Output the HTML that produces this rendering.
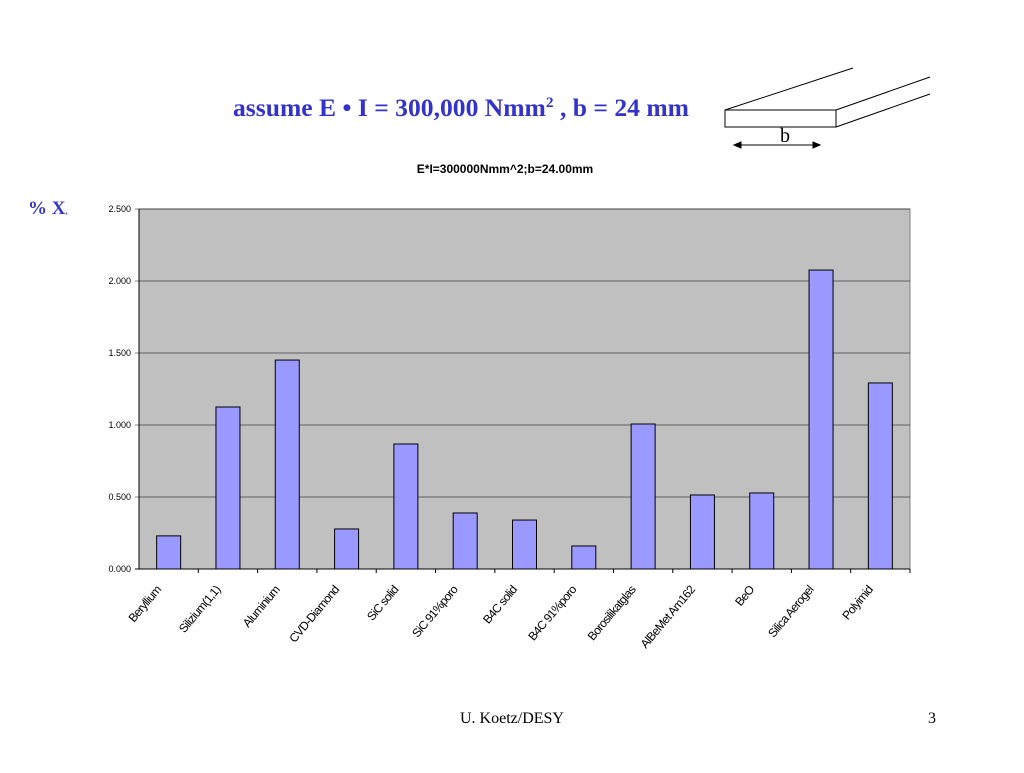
<!DOCTYPE html>
<html><head><meta charset="utf-8"><style>
body{margin:0;background:#fff;width:1024px;height:768px;overflow:hidden;font-family:"Liberation Sans",sans-serif}
</style></head><body>
<svg width="1024" height="768">
<text x="233" y="116" font-family="Liberation Serif" font-weight="bold" font-size="25" fill="#3333cc" textLength="456" lengthAdjust="spacingAndGlyphs">assume E • I = 300,000 Nmm<tspan font-size="15" dy="-9">2</tspan><tspan dy="9"> , b = 24 mm</tspan></text>
<g stroke="#000" fill="none" stroke-width="1">
<rect x="725" y="110" width="111" height="17"/>
<line x1="725" y1="110" x2="853" y2="68"/><line x1="836" y1="110" x2="930" y2="77"/><line x1="836" y1="127" x2="930" y2="94"/>
<line x1="738" y1="145" x2="816" y2="145"/>
<path d="M734 145l7-3v6z M820 145l-7-3v6z" fill="#000"/>
</g>
<text x="785" y="142" text-anchor="middle" font-family="Liberation Serif" font-size="20">b</text>
<text x="505" y="173" text-anchor="middle" font-weight="bold" font-size="12">E*I=300000Nmm^2;b=24.00mm</text>
<text x="28" y="214" font-family="Liberation Serif" font-weight="bold" font-size="19" fill="#3333cc">% X<tspan font-size="8">,</tspan></text>
<g id="chart"></g>
<text x="512" y="723" text-anchor="middle" font-family="Liberation Serif" font-size="16">U. Koetz/DESY</text>
<text x="932" y="723" text-anchor="middle" font-family="Liberation Serif" font-size="16">3</text>
</svg>
<script>
const categories=["Beryllium","Silizium(1,1)","Aluminium","CVD-Diamond","SiC solid","SiC 91%poro","B4C solid","B4C 91%poro","Borosilikatglas","AlBeMet Am162","BeO","Silica Aerogel","Polyimid"];
const values=[0.23,1.125,1.451,0.278,0.868,0.389,0.34,0.16,1.007,0.514,0.528,2.076,1.292];
const ticks=[0,0.5,1,1.5,2,2.5];
const tickLabels=["0.000","0.500","1.000","1.500","2.000","2.500"];
const L=139,R=910,T=209,B=569,ymax=2.5;
const NS="http://www.w3.org/2000/svg";
const g=document.getElementById('chart');
function y(v){return B-(v/ymax)*(B-T);}
const step=(R-L)/categories.length;
function xc(i){return L+step*(i+0.5);}
function mk(t,a){const e=document.createElementNS(NS,t);for(const k in a)e.setAttribute(k,a[k]);g.appendChild(e);return e;}
const bg=mk('rect',{x:L,y:T,width:R-L,height:B-T,fill:'#c0c0c0',stroke:'#808080'});


ticks.forEach((t,i)=>{
 const ln=mk('line',{x1:L-4,x2:R,y1:y(t),y2:y(t),stroke:'#000','stroke-width':i==0?1:0.6});
 
 
 const tx=mk('text',{x:L-8,y:y(t)+3,'text-anchor':'end','font-size':9});
 tx.textContent=tickLabels[i];
 
 
});
mk('line',{x1:L,x2:L,y1:T,y2:B,stroke:'#000'});
categories.forEach((c,i)=>{
 const bw=24;
 const r=mk('rect',{x:xc(i)-bw/2,y:y(values[i]),width:bw,height:B-y(values[i]),fill:'#9999ff',stroke:'#000','stroke-width':1});
 
 
 const tk=mk('line',{x1:L+step*(i+1),x2:L+step*(i+1),y1:B,y2:B+4,stroke:'#000'});
 
 
 const ax=xc(i)-7,ay=B+21;
 const t=mk('text',{x:ax,y:ay,'text-anchor':'end','font-size':12,transform:`rotate(-50 ${ax} ${ay})`,'letter-spacing':'-0.7'});
 t.textContent=c;
 
 
});
</script>
</body></html>
